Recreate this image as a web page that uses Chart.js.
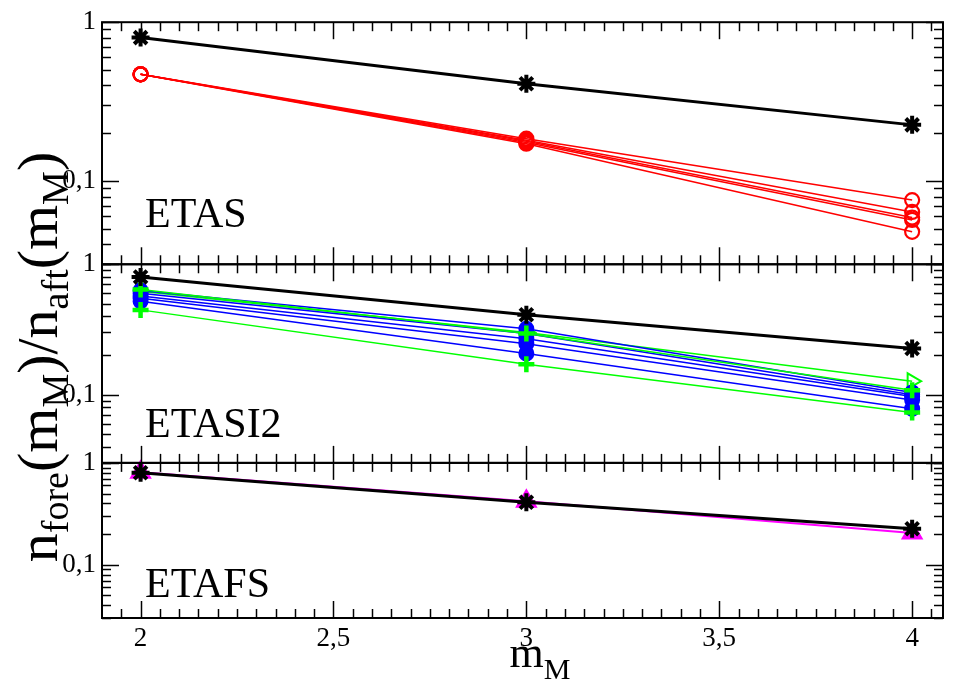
<!DOCTYPE html>
<html>
<head>
<meta charset="utf-8">
<script src="https://cdn.jsdelivr.net/npm/chart.js@4.4.1/dist/chart.umd.min.js"></script>
<style>
  html, body { margin: 0; background: #fff; }
  #wrap { position: relative; width: 956px; height: 689px; }
</style>
</head>
<body>
<div id="wrap"><canvas id="c" width="956" height="689"></canvas></div>
<script>
/* n_fore/n_aft vs m_M, three stacked log panels */
const mM = [2, 3, 4];
const xTicks = [2, 2.5, 3, 3.5, 4];
const yTicks = [0.1, 1];
const panelNames = ["ETAS", "ETASI2", "ETAFS"];

// reference curve (black asterisks), same in every panel
const black = [0.80, 0.41, 0.226];

// ETAS (red open circles)
const etas1 = [0.47, 0.185, 0.076];
const etas2 = [0.47, 0.181, 0.064];
const etas3 = [0.47, 0.178, 0.059];
const etas4 = [0.47, 0.175, 0.057];
const etas5 = [0.47, 0.172, 0.048];

// ETASI2 (blue filled circles, green pluses, green triangle)
const blue1 = [0.63, 0.32, 0.104];
const blue2 = [0.60, 0.294, 0.0997];
const blue3 = [0.57, 0.269, 0.097];
const blue4 = [0.55, 0.246, 0.091];
const blue5 = [0.52, 0.207, 0.078];
const green1 = [0.64, 0.294, 0.108];
const green2 = [0.447, 0.171, 0.073];
const green3 = [0.62, 0.30, 0.127];

// ETAFS (magenta triangles)
const etafs1 = [0.81, 0.42, 0.205];

const SERIF = '"Liberation Serif", "Times New Roman", serif';

function pts(vals) {
  return vals.map((v, i) => ({ x: mM[i], y: v }));
}

function fmt(v) {
  return String(v).replace(".", ",");
}

function series(vals, yAxisID, color, style) {
  return Object.assign({
    data: pts(vals),
    yAxisID,
    borderColor: color,
    backgroundColor: color,
    pointBorderColor: color,
    pointBackgroundColor: color,
    borderWidth: 1.5,
    pointRadius: 7,
    pointBorderWidth: 2,
    pointStyle: "circle",
    clip: false,
  }, style || {});
}

const blackStyle = { borderWidth: 3, pointStyle: "star", pointRadius: 9, pointBorderWidth: 4 };
const redStyle = { pointRadius: 7, pointBorderWidth: 2.2, pointBackgroundColor: "rgba(0,0,0,0)" };
const plusStyle = { pointStyle: "cross", pointRadius: 8, pointBorderWidth: 4.5 };
const triRightStyle = { pointStyle: "triangle", rotation: 90, pointRadius: 9, pointBackgroundColor: "rgba(0,0,0,0)" };
const magStyle = { pointStyle: "triangle", pointRadius: 11, borderWidth: 2 };

// first dataset is drawn on top
const datasets = [
  series(black, "y1", "#000", blackStyle),
  series(black, "y2", "#000", blackStyle),
  series(black, "y3", "#000", blackStyle),
  series(etas1, "y1", "#ff0000", redStyle),
  series(etas2, "y1", "#ff0000", redStyle),
  series(etas3, "y1", "#ff0000", redStyle),
  series(etas4, "y1", "#ff0000", redStyle),
  series(etas5, "y1", "#ff0000", redStyle),
  series(green1, "y2", "#00ff00", plusStyle),
  series(green2, "y2", "#00ff00", plusStyle),
  series(blue1, "y2", "#0000ff"),
  series(blue2, "y2", "#0000ff"),
  series(blue3, "y2", "#0000ff"),
  series(blue4, "y2", "#0000ff"),
  series(blue5, "y2", "#0000ff"),
  series(green3, "y2", "#00ff00", triRightStyle),
  series(etafs1, "y3", "#ff00ff", magStyle),
];

function yScale(weight, stackWeight) {
  return {
    type: "logarithmic",
    min: 0.03,
    max: 1,
    position: "left",
    stack: "panels",
    stackWeight,
    weight,
    grid: { display: false, drawTicks: false },
    border: { display: false },
    ticks: {
      autoSkip: false,
      padding: 6,
      color: "#000",
      font: { family: SERIF, size: 27 },
      callback: (v) => fmt(v),
    },
    afterBuildTicks: (s) => { s.ticks = yTicks.map((v) => ({ value: v })); },
    afterFit: (s) => { s.width = 102; },
  };
}

function richText(ctx, parts, x, y, angle, mainPx, subPx, drop) {
  ctx.save();
  ctx.translate(x, y);
  ctx.rotate(angle);
  let total = 0;
  parts.forEach((p) => {
    ctx.font = `${p[1] ? subPx : mainPx}px ${SERIF}`;
    total += ctx.measureText(p[0]).width;
  });
  let cx = -total / 2;
  ctx.textBaseline = "alphabetic";
  ctx.textAlign = "left";
  parts.forEach((p) => {
    ctx.font = `${p[1] ? subPx : mainPx}px ${SERIF}`;
    ctx.fillText(p[0], cx, p[1] ? drop : 0);
    cx += ctx.measureText(p[0]).width;
  });
  ctx.restore();
}

const decor = {
  id: "decor",
  afterDatasetsDraw(chart) {
    const ctx = chart.ctx;
    const xs = chart.scales.x;
    const line = (x1, y1, x2, y2) => {
      ctx.beginPath();
      ctx.moveTo(x1, y1);
      ctx.lineTo(x2, y2);
      ctx.stroke();
    };
    ctx.save();
    ctx.strokeStyle = "#000";
    ["y1", "y2", "y3"].forEach((id, idx) => {
      const ys = chart.scales[id];
      ctx.lineWidth = 1.5;
      for (let k = 38; k <= 82; k++) {
        const v = k / 20;
        if (v <= xs.min || v >= xs.max) continue;
        const px = Math.round(xs.getPixelForValue(v)) + 0.5;
        const len = k % 10 === 0 ? 17 : 9;
        line(px, ys.top, px, ys.top + len);
        line(px, ys.bottom, px, ys.bottom - len);
      }
      [0.01, 0.1, 1].forEach((d) => {
        for (let m = 1; m <= 9; m++) {
          const v = m * d;
          if (v < ys.min - 1e-9 || v > ys.max + 1e-9) continue;
          const py = Math.round(ys.getPixelForValue(v)) + 0.5;
          const len = m === 1 ? 17 : 9;
          line(xs.left, py, xs.left + len, py);
          line(xs.right, py, xs.right - len, py);
        }
      });
      ctx.lineWidth = 2;
      ctx.strokeRect(xs.left, ys.top, xs.right - xs.left, ys.bottom - ys.top);

      ctx.fillStyle = "#000";
      ctx.font = `42px ${SERIF}`;
      ctx.textAlign = "left";
      ctx.textBaseline = "alphabetic";
      const off = [37, 26, 21][idx];
      ctx.fillText(panelNames[idx], 145, ys.bottom - off);
    });
    ctx.fillStyle = "#000";
    richText(ctx, [["m", false], ["M", true]], 540, 667, 0, 44, 30, 12);
    richText(ctx, [
      ["n", false], ["fore", true], ["(m", false], ["M", true], [")/n", false],
      ["aft", true], ["(m", false], ["M", true], [")", false],
    ], 57, 357, -Math.PI / 2, 58, 38, 11);
    ctx.restore();
  },
};

new Chart(document.getElementById("c"), {
  type: "line",
  data: { datasets },
  options: {
    responsive: false,
    animation: false,
    layout: { padding: { top: 15, right: 1, left: 0, bottom: 0 } },
    plugins: { legend: { display: false }, tooltip: { enabled: false } },
    scales: {
      x: {
        type: "linear",
        min: 1.9,
        max: 4.08,
        position: "bottom",
        grid: { display: false, drawTicks: false },
        border: { display: false },
        ticks: {
          autoSkip: false,
          padding: 5,
          color: "#000",
          font: { family: SERIF, size: 27 },
          maxRotation: 0,
          callback: (v) => fmt(v),
        },
        afterBuildTicks: (s) => { s.ticks = xTicks.map((v) => ({ value: v })); },
        afterFit: (s) => { s.height = 71; },
      },
      y1: yScale(3, 245),
      y2: yScale(2, 201),
      y3: yScale(1, 157),
    },
  },
  plugins: [decor],
});
</script>
</body>
</html>
